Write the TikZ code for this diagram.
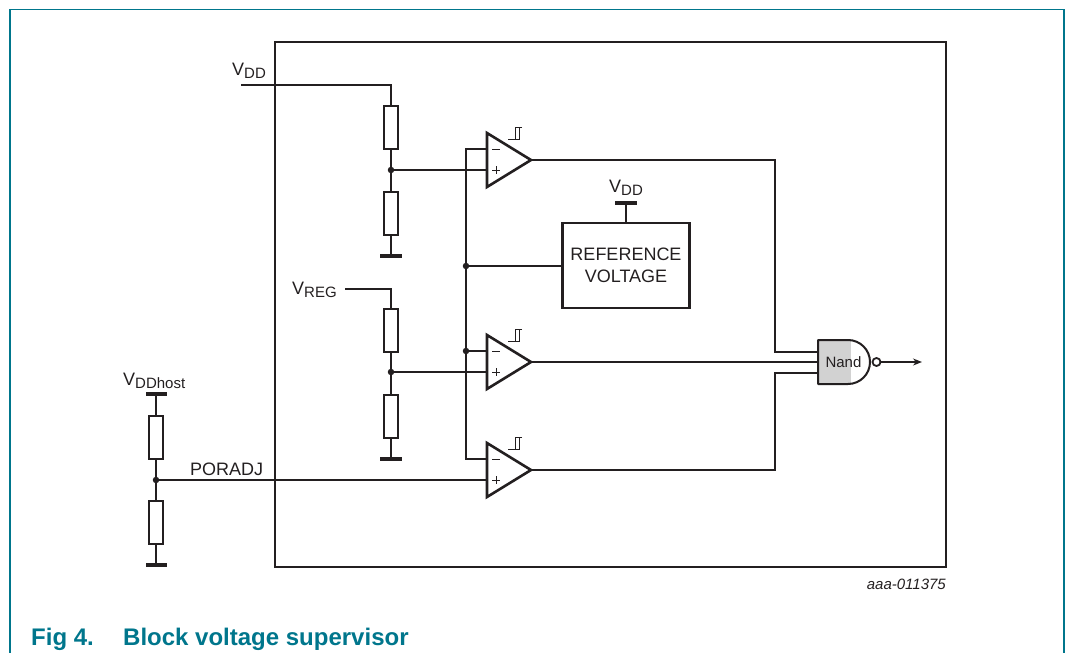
\documentclass[tikz,border=0pt]{standalone}
\usepackage{fontspec}
\setmainfont{Liberation Sans}
\usetikzlibrary{arrows.meta}
\definecolor{teal0}{RGB}{0,118,140}
\definecolor{ink}{RGB}{35,31,32}
\newcommand\mysub[1]{\raisebox{-3.5pt}{\fontsize{15}{15}\selectfont #1}}
\tikzset{
  wire/.style={draw=ink, line width=1.3pt},
  res/.style={draw=ink, line width=1.3pt, fill=white, minimum width=14pt, minimum height=43pt, inner sep=0pt},
  gnd/.style={fill=ink, minimum width=22pt, minimum height=4.5pt, inner sep=0pt},
  dot/.style={circle, fill=ink, minimum size=6.5pt, inner sep=0pt},
  lbl/.style={inner sep=0pt, text=ink, font=\fontsize{18}{20}\selectfont},
  thickbox/.style={draw=ink, line width=2.5pt, inner sep=0pt},
  comp/.pic={
    \draw[line width=2.6pt, ink, line join=miter] (0,0) -- (44,27) -- (0,54) -- cycle;
    \coordinate (-minus) at (0,16);
    \coordinate (-plus) at (0,37);
    \coordinate (-out) at (44,27);
    \draw[line width=1pt, ink] (5,16) -- (13,16) (5,37) -- (13,37) (9,33) -- (9,41);
    \draw[line width=1pt, ink] (21,6) -- (32,6) -- (32,-6) (35,-6) -- (28,-6) -- (28,6);
  }
}
\begin{document}
\begin{tikzpicture}[x=1pt,y=-1pt]
\useasboundingbox (0,0) rectangle (1066,653);
% outer frame
\draw[teal0, line width=1.3pt] (10,653) -- (10,9.5) -- (1064,9.5) -- (1064,653);
% chip box
\node[thickbox, minimum width=671pt, minimum height=525pt] (chip) at (610.5,304.5) {};

% VDD divider
\node[lbl, anchor=base west] (lvdd) at (232,75) {V\mysub{DD}};
\coordinate (vddin) at (241,85);
\coordinate (vddk) at (391,85);
\node[res] (r1) at (391,127.5) {};
\node[dot] (n1) at (391,170) {};
\node[res] (r2) at (391,213.5) {};
\node[gnd] (g1) at (391,256) {};
\draw[wire] (vddin) -- (vddk) -- (r1.north) (r1.south) -- (n1) -- (r2.north) (r2.south) -- (g1);

% VREG divider
\node[lbl, anchor=base west] (lvreg) at (292,294) {V\mysub{REG}};
\coordinate (vregin) at (345,289);
\coordinate (vregk) at (391,289);
\node[res] (r3) at (391,330.5) {};
\node[dot] (n2) at (391,372) {};
\node[res] (r4) at (391,416.5) {};
\node[gnd] (g2) at (391,459) {};
\draw[wire] (vregin) -- (vregk) -- (r3.north) (r3.south) -- (n2) -- (r4.north) (r4.south) -- (g2);

% VDDhost divider
\node[lbl, anchor=base west] (lvddh) at (123,385) {V\mysub{DDhost}};
\node[gnd, minimum width=21pt] (g3) at (156,394) {};
\node[res] (r5) at (156,437.5) {};
\node[dot] (n3) at (156,480) {};
\node[res] (r6) at (156,522.5) {};
\node[gnd, minimum width=21pt] (g5) at (156,565) {};
\draw[wire] (g3) -- (r5.north) (r5.south) -- (n3) -- (r6.north) (r6.south) -- (g5);
\node[lbl, anchor=base west] (lpor) at (190,475) {PORADJ};

% comparators
\pic (c1) at (487,133) {comp};
\pic (c2) at (487,335) {comp};
\pic (c3) at (487,443) {comp};

\draw[wire] (n1) -- (c1-plus);
\draw[wire] (n2) -- (c2-plus);
\draw[wire] (n3) -- (c3-plus);

% reference voltage
\node[thickbox, minimum width=127pt, minimum height=85pt, align=center, text=ink,
      font=\fontsize{18}{22}\selectfont] (ref) at (626,265.5) {REFERENCE\\VOLTAGE};
\node[gnd] (g4) at (626,203) {};
\draw[wire] (g4) -- (g4 |- ref.north);
\node[lbl, anchor=base west] (lvddr) at (609,192) {V\mysub{DD}};

% bus
\coordinate (busx) at (466,0);
\node[dot] (b1) at (466,266) {};
\node[dot] (b2) at (c2-minus -| busx) {};
\draw[wire] (c1-minus) -- (c1-minus -| busx) -- (c3-minus -| busx) -- (c3-minus);
\draw[wire] (b1) -- (b1 -| ref.west);
\draw[wire] (b2) -- (c2-minus);

% NAND gate
\coordinate (in1) at (818,352);
\coordinate (in2) at (818,362);
\coordinate (in3) at (818,373);
\coordinate (mx) at (775,0);
\begin{scope}
  \clip (818,340) -- (848,340) arc[start angle=-90, end angle=90, radius=22] -- (818,384) -- cycle;
  \fill[gray!35] (818,340) rectangle (851,384);
\end{scope}
\draw[ink, line width=2pt, line join=round] (818,340) -- (848,340) arc[start angle=-90, end angle=90, radius=22] -- (818,384) -- cycle;
\node[inner sep=0pt, text=ink, font=\fontsize{15}{15}\selectfont, anchor=base] (nandlbl) at (843.5,367.5) {Nand};
\node[circle, draw=ink, line width=1.8pt, minimum size=8pt, inner sep=0pt] (bub) at (876.5,362) {};
\coordinate (outend) at (922,362);
\draw[wire, -{Stealth[length=9pt,width=7pt]}] (bub) -- (outend);

\draw[wire] (c1-out) -- (c1-out -| mx) -- (in1 -| mx) -- (in1);
\draw[wire] (c2-out) -- (in2);
\draw[wire] (c3-out) -- (c3-out -| mx) -- (in3 -| mx) -- (in3);

% id and caption
\node[inner sep=0pt, anchor=base east, text=ink, font=\itshape\fontsize{15}{15}\selectfont] (figid) at (946,589) {aaa-011375};
\node[inner sep=0pt, anchor=base west, text=teal0, font=\bfseries\fontsize{24}{26}\selectfont] (figno) at (31,645) {Fig 4.};
\node[inner sep=0pt, anchor=base west, text=teal0, font=\bfseries\fontsize{24}{26}\selectfont] (figtitle) at (123,645) {Block voltage supervisor};
\end{tikzpicture}
\end{document}
